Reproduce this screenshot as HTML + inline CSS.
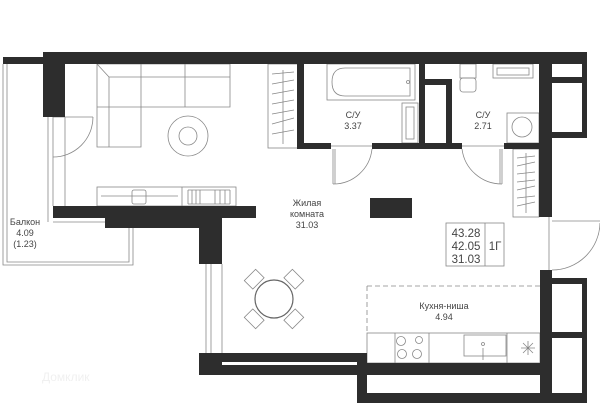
<!DOCTYPE html>
<html><head><meta charset="utf-8"><style>
html,body{margin:0;padding:0;background:#fff;}
svg{display:block}
text{font-family:"Liberation Sans",sans-serif;fill:#444;}
</style></head><body>
<svg width="600" height="403" viewBox="0 0 600 403" xmlns="http://www.w3.org/2000/svg">
<g fill="none" stroke="#888" stroke-width="0.8">
<polyline points="3,64 3,265 133,265 133,228"/>
<polyline points="7,64 7,262 129,262 129,228"/>
<line x1="53" y1="222" x2="105" y2="222"/>
<line x1="48" y1="117" x2="48" y2="222"/>
<line x1="53" y1="117" x2="53" y2="206"/>
<line x1="65" y1="117" x2="65" y2="206"/>
<line x1="53" y1="117" x2="93" y2="117"/>
<path d="M93,117 A40,40 0 0 1 53,157"/>
<path d="M97,64 H230 V107 H141 V147 H97 Z"/>
<line x1="109" y1="77" x2="230" y2="77"/>
<line x1="109" y1="77" x2="109" y2="147"/>
<line x1="97" y1="64" x2="109" y2="77"/>
<line x1="141" y1="64" x2="141" y2="107"/>
<line x1="185" y1="64" x2="185" y2="107"/>
<line x1="97" y1="107" x2="141" y2="107"/>
<circle cx="188" cy="136" r="20"/>
<circle cx="188" cy="136" r="9"/>
<rect x="268" y="64" width="30" height="84"/>
<line x1="283" y1="70" x2="283" y2="144"/>
<path d="M272,74 L294,72 M272,84 L294,80 M272,94 L294,90 M272,104 L294,100 M272,114 L294,110 M272,124 L294,118 M272,134 L294,130"/>
<rect x="97" y="187" width="139" height="19"/>
<line x1="182" y1="187" x2="182" y2="206"/>
<line x1="101" y1="196" x2="178" y2="196"/>
<rect x="132" y="190" width="14" height="14" rx="2"/>
<path d="M188,190 V204 M192,190 V204 M196,190 V204 M200,190 V204 M215,190 V204 M220,190 V204 M225,190 V204 M230,190 V204 M188,190 H230 M188,204 H230"/>
<rect x="327" y="64" width="88" height="36"/>
<path d="M345,68 H410 V96 H345 Q332,96 332,82 Q332,68 345,68 Z"/>
<circle cx="408" cy="82" r="1.5"/>
<rect x="402" y="103" width="16" height="40"/>
<rect x="406" y="107" width="8" height="32"/>
<rect x="460" y="64" width="16" height="14"/>
<rect x="460" y="78" width="16" height="14" rx="3"/>
<rect x="493" y="64" width="40" height="14"/>
<rect x="497" y="68" width="32" height="7"/>
<rect x="507" y="113" width="32" height="30"/>
<circle cx="522" cy="127" r="10"/>
<line x1="331" y1="146" x2="372" y2="146"/>
<line x1="333" y1="149" x2="333" y2="184"/>
<line x1="335" y1="149" x2="335" y2="184"/>
<path d="M333,184 A39,39 0 0 0 372,149"/>
<line x1="462" y1="146" x2="504" y2="146"/>
<line x1="502" y1="149" x2="502" y2="184"/>
<line x1="500" y1="149" x2="500" y2="184"/>
<path d="M462,149 A40,40 0 0 0 502,184"/>
<rect x="513" y="149" width="26" height="68"/>
<line x1="526" y1="153" x2="526" y2="213"/>
<path d="M517,158 L535,156 M517,166 L535,162 M517,174 L535,172 M517,182 L535,180 M517,190 L535,186 M517,198 L535,196 M517,206 L535,202"/>
<line x1="549" y1="217" x2="549" y2="270"/>
<line x1="552" y1="221" x2="600" y2="221"/>
<path d="M600,223 A48,48 0 0 1 552,270"/>
<line x1="206" y1="264" x2="206" y2="353"/>
<line x1="211" y1="264" x2="211" y2="353"/>
<line x1="222" y1="264" x2="222" y2="353"/>
<circle cx="274" cy="299" r="19" stroke="#666" stroke-width="1.2"/>
<g transform="translate(274,299)">
<rect x="-8" y="-34" width="16" height="12" transform="rotate(-45)"/>
<rect x="-8" y="-34" width="16" height="12" transform="rotate(45)"/>
<rect x="-8" y="-34" width="16" height="12" transform="rotate(135)"/>
<rect x="-8" y="-34" width="16" height="12" transform="rotate(225)"/>
</g>
<rect x="446" y="223" width="58" height="43"/>
<line x1="485" y1="223" x2="485" y2="266"/>
<line x1="367" y1="286" x2="540" y2="286" stroke-dasharray="5,3"/>
<line x1="367" y1="286" x2="367" y2="333" stroke-dasharray="5,3"/>
<rect x="367" y="333" width="173" height="30"/>
<line x1="395" y1="333" x2="395" y2="363"/>
<line x1="429" y1="333" x2="429" y2="363"/>
<line x1="507" y1="333" x2="507" y2="363"/>
<rect x="464" y="335" width="42" height="21"/>
<circle cx="401" cy="341" r="4.5"/><circle cx="419" cy="340" r="3.5"/>
<circle cx="402" cy="354" r="4.5"/><circle cx="417" cy="354" r="4.5"/>
<line x1="483" y1="348" x2="483" y2="360"/><circle cx="483" cy="344" r="1.5"/>
<path d="M523,343 L533,353 M533,343 L523,353 M528,341 V355 M521,348 H535"/>
</g>
<g fill="#2d2d2d">
<rect x="3" y="57" width="40" height="7"/>
<rect x="43" y="52" width="543" height="12"/>
<rect x="43" y="52" width="22" height="65"/>
<rect x="297" y="64" width="7" height="85"/>
<rect x="297" y="143" width="34" height="6"/>
<rect x="372" y="143" width="90" height="6"/>
<rect x="504" y="143" width="35" height="6"/>
<rect x="419" y="64" width="6" height="85"/>
<path d="M419,79 H452 V149 H446 V85 H425 Z"/>
<rect x="539" y="64" width="13" height="153"/>
<rect x="552" y="77" width="34" height="6"/>
<rect x="552" y="132" width="34" height="6"/>
<rect x="582" y="52" width="5" height="86"/>
<rect x="370" y="198" width="42" height="20"/>
<rect x="53" y="206" width="203" height="12"/>
<rect x="105" y="218" width="117" height="10"/>
<rect x="199" y="218" width="23" height="46"/>
<rect x="199" y="353" width="168" height="22"/>
<rect x="367" y="363" width="185" height="12"/>
<rect x="357" y="363" width="10" height="40"/>
<rect x="357" y="393" width="230" height="10"/>
<rect x="540" y="270" width="12" height="133"/>
<rect x="552" y="278" width="35" height="6"/>
<rect x="552" y="332" width="35" height="6"/>
<rect x="582" y="278" width="5" height="125"/>
</g>
<rect x="222" y="362" width="135" height="3" fill="#fff"/>
<g font-size="9" text-anchor="middle">
<text x="25" y="225">Балкон</text>
<text x="25" y="236">4.09</text>
<text x="25" y="247">(1.23)</text>
<text x="307" y="206">Жилая</text>
<text x="307" y="217">комната</text>
<text x="307" y="228">31.03</text>
<text x="353" y="118">С/У</text>
<text x="353" y="129">3.37</text>
<text x="483" y="118">С/У</text>
<text x="483" y="129">2.71</text>
<text x="444" y="309">Кухня-ниша</text>
<text x="444" y="320">4.94</text>
</g>
<g font-size="11.5" text-anchor="middle">
<text x="466" y="237">43.28</text>
<text x="466" y="250">42.05</text>
<text x="466" y="263">31.03</text>
<text x="495" y="250">1Г</text>
</g>
<text x="42" y="381" font-size="12" style="fill:#f0f0f0">Домклик</text>
</svg>
</body></html>
